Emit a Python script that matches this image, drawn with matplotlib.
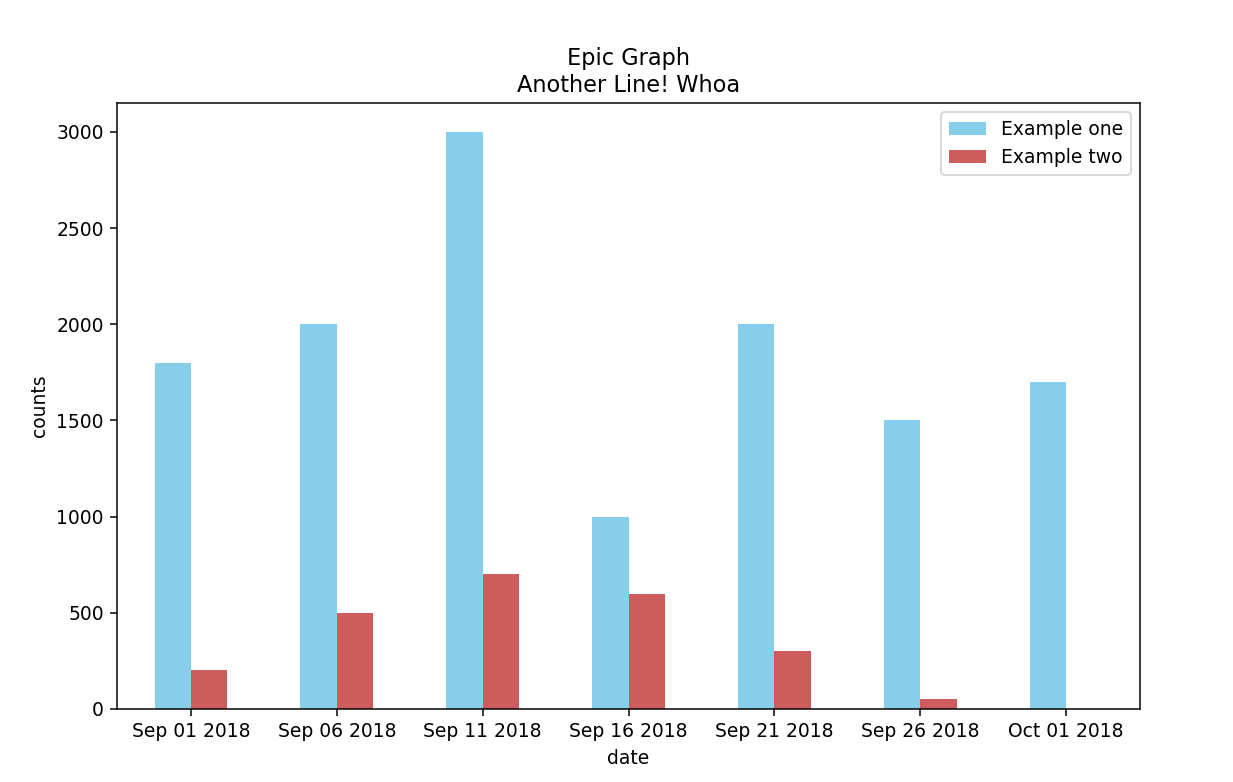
import datetime as dt

import matplotlib
matplotlib.use("Agg")
import matplotlib.pyplot as plt
import matplotlib.dates as mdates

dates = [dt.datetime(2018, 9, 1) + dt.timedelta(days=5 * i) for i in range(7)]
example_one = [1800, 2000, 3000, 1000, 2000, 1500, 1700]
example_two = [200, 500, 700, 600, 300, 50, 0]
bar_w = 1.25


def main():
    dpi = 135
    fig = plt.figure(figsize=(1233 / dpi, 782 / dpi), dpi=dpi)
    ax = fig.add_axes([0.0949, 0.0934, 0.9246 - 0.0949, 0.8683 - 0.0934])

    ax.bar(dates, example_one, width=-bar_w, align='edge', color='skyblue', label='Example one')
    ax.bar(dates, example_two, width=bar_w, align='edge', color='indianred', label='Example two')

    ax.xaxis.set_major_locator(mdates.DayLocator(bymonthday=[1, 6, 11, 16, 21, 26]))
    ax.xaxis.set_major_formatter(mdates.DateFormatter('%b %d %Y'))
    pad = dt.timedelta(days=2.537)
    ax.set_xlim(dates[0] - pad, dates[-1] + pad)
    ax.set_ylim(0, 3150)

    ax.set_xlabel('date')
    ax.set_ylabel('counts')
    ax.set_title('Epic Graph\nAnother Line! Whoa')
    ax.legend(loc='upper right')

    fig.savefig('out.png', dpi=dpi)
    plt.close(fig)


if __name__ == '__main__':
    main()
